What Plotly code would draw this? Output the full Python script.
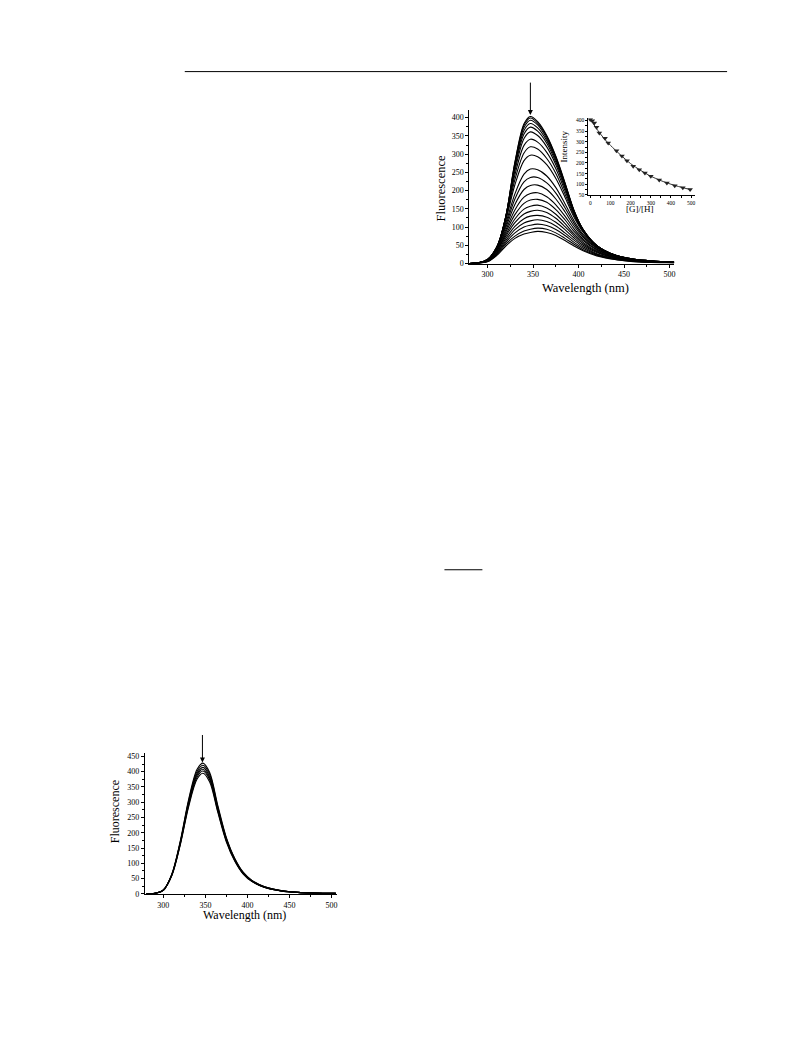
import plotly.graph_objects as go

W, H = 793, 1059

# ---------------- data ----------------
wavelength = [280, 290, 300, 310, 320, 330, 340, 347, 355, 365, 375, 385, 395, 405, 420, 440, 460, 480, 505]

# top panel: titration spectra (intensity vs wavelength), highest to lowest
top_c01 = [0, 2, 10, 40, 129, 278, 383, 403, 389, 351, 294, 222, 145, 93, 48, 22, 11, 6, 4]
top_c02 = [0, 2, 10, 41, 129, 276, 379, 399, 385, 348, 292, 220, 145, 93, 49, 22, 11, 6, 4]
top_c03 = [0, 2, 10, 41, 129, 272, 373, 393, 380, 343, 289, 218, 144, 93, 49, 22, 11, 7, 4]
top_c04 = [0, 2, 10, 42, 128, 268, 365, 384, 372, 337, 284, 216, 143, 92, 49, 23, 11, 7, 4]
top_c05 = [0, 2, 11, 43, 128, 262, 355, 374, 363, 330, 278, 212, 141, 92, 49, 23, 12, 7, 4]
top_c06 = [0, 2, 11, 43, 127, 254, 343, 361, 351, 320, 271, 207, 139, 91, 49, 23, 12, 7, 4]
top_c07 = [0, 2, 11, 44, 125, 243, 324, 341, 333, 305, 260, 200, 136, 90, 49, 23, 12, 7, 4]
top_c08 = [0, 2, 11, 45, 122, 230, 303, 320, 314, 288, 247, 191, 132, 88, 49, 23, 12, 7, 4]
top_c09 = [0, 2, 11, 45, 119, 216, 282, 297, 293, 271, 233, 182, 127, 86, 48, 23, 12, 7, 4]
top_c10 = [0, 2, 11, 44, 111, 191, 245, 259, 257, 240, 208, 164, 117, 80, 46, 22, 11, 6, 4]
top_c11 = [0, 2, 10, 43, 105, 177, 224, 236, 236, 221, 193, 153, 110, 76, 44, 21, 11, 6, 4]
top_c12 = [0, 2, 10, 41, 99, 162, 203, 214, 215, 203, 177, 142, 103, 72, 42, 20, 10, 6, 3]
top_c13 = [0, 2, 9, 39, 92, 147, 182, 192, 194, 183, 161, 130, 95, 67, 39, 19, 10, 6, 3]
top_c14 = [0, 2, 9, 37, 86, 134, 165, 174, 176, 168, 148, 120, 88, 63, 37, 18, 9, 5, 3]
top_c15 = [0, 1, 8, 35, 80, 122, 149, 157, 160, 152, 135, 110, 81, 58, 34, 17, 8, 5, 3]
top_c16 = [0, 1, 8, 33, 75, 112, 136, 143, 146, 140, 124, 101, 76, 54, 32, 16, 8, 5, 3]
top_c17 = [0, 1, 7, 30, 69, 102, 123, 130, 132, 127, 113, 93, 70, 50, 30, 15, 7, 4, 2]
top_c18 = [0, 1, 7, 28, 63, 93, 111, 117, 120, 115, 103, 84, 64, 46, 27, 14, 7, 4, 2]
top_c19 = [0, 1, 6, 26, 58, 84, 100, 105, 108, 104, 93, 77, 58, 42, 25, 13, 6, 4, 2]
top_c20 = [0, 1, 6, 24, 53, 75, 89, 94, 97, 94, 84, 69, 53, 38, 23, 11, 6, 3, 2]
top_c21 = [0, 1, 5, 22, 48, 69, 81, 85, 88, 85, 77, 63, 48, 35, 21, 11, 5, 3, 2]
top_spectra = [top_c01, top_c02, top_c03, top_c04, top_c05, top_c06, top_c07,
               top_c08, top_c09, top_c10, top_c11, top_c12, top_c13, top_c14,
               top_c15, top_c16, top_c17, top_c18, top_c19, top_c20, top_c21]

# inset: intensity vs [G]/[H]
inset_ratio = [0, 10, 20, 31, 45, 73, 89, 130, 157, 182, 213, 243, 271, 300, 342, 380, 419, 459, 495]
inset_intensity = [405, 399, 388, 368, 341, 316, 294, 258, 233, 210, 185, 168, 153, 137, 120, 106, 93, 84, 75]
fit_ratio = [0, 25, 50, 75, 100, 150, 200, 250, 300, 350, 400, 450, 500]
fit_intensity = [407, 370, 337, 308, 283, 238, 197, 165, 138, 117, 100, 86, 74]

# bottom panel spectra
bot_c1 = [0, 2, 13, 64, 171, 308, 407, 428, 398, 287, 184, 116, 71, 45, 24, 11, 5, 3, 2]
bot_c2 = [0, 2, 13, 63, 168, 303, 400, 421, 392, 282, 181, 114, 69, 44, 23, 11, 5, 3, 2]
bot_c3 = [0, 2, 12, 62, 166, 298, 393, 414, 385, 277, 178, 112, 68, 43, 23, 10, 5, 3, 2]
bot_c4 = [0, 2, 12, 61, 163, 294, 388, 408, 379, 273, 175, 110, 67, 43, 22, 10, 5, 3, 2]
bot_c5 = [0, 2, 12, 60, 161, 289, 382, 402, 374, 269, 173, 109, 66, 42, 22, 10, 5, 3, 2]
bot_c6 = [0, 2, 12, 59, 158, 284, 375, 395, 367, 265, 170, 107, 65, 41, 22, 10, 5, 3, 2]
bot_spectra = [bot_c1, bot_c2, bot_c3, bot_c4, bot_c5, bot_c6]

main_xticks = [300, 350, 400, 450, 500]
top_yticks = [0, 50, 100, 150, 200, 250, 300, 350, 400]
bot_yticks = [0, 50, 100, 150, 200, 250, 300, 350, 400, 450]
inset_xticks = [0, 100, 200, 300, 400, 500]
inset_yticks = [50, 100, 150, 200, 250, 300, 350, 400]

# ---------------- helpers ----------------
def px(x):
    return x / W

def py(y):
    return 1 - y / H

FONT = "Liberation Serif, Times New Roman, serif"

fig = go.Figure()

for s in top_spectra:
    fig.add_trace(go.Scatter(x=wavelength, y=s, mode="lines",
                             line=dict(color="black", width=1.1, shape="spline", smoothing=0.9),
                             xaxis="x", yaxis="y", showlegend=False, hoverinfo="skip"))

fig.add_trace(go.Scatter(x=fit_ratio, y=fit_intensity, mode="lines",
                         line=dict(color="#333", width=1, shape="spline", smoothing=0.8),
                         xaxis="x2", yaxis="y2", showlegend=False))
fig.add_trace(go.Scatter(x=inset_ratio, y=inset_intensity, mode="markers",
                         marker=dict(symbol="triangle-down", size=5, color="#222"),
                         xaxis="x2", yaxis="y2", showlegend=False))

for s in bot_spectra:
    fig.add_trace(go.Scatter(x=wavelength, y=s, mode="lines",
                             line=dict(color="black", width=1.1, shape="spline", smoothing=0.9),
                             xaxis="x3", yaxis="y3", showlegend=False, hoverinfo="skip"))

def axis(domain, rng, tickvals, fsize, anchor, dtick_minor, ticklen=3):
    return dict(domain=domain, range=rng, tickvals=tickvals, ticktext=[str(v) for v in tickvals],
                showgrid=False, zeroline=False, showline=True, linecolor="black", linewidth=1,
                ticks="outside", ticklen=ticklen, tickwidth=1, tickcolor="black",
                tickfont=dict(family=FONT, size=fsize, color="#000000"), anchor=anchor,
                minor=dict(ticks="outside", ticklen=2, dtick=dtick_minor, tickcolor="black", tickwidth=1),
                fixedrange=True)

fig.update_layout(
    width=W, height=H, autosize=False,
    margin=dict(l=0, r=0, t=0, b=0),
    paper_bgcolor="white", plot_bgcolor="rgba(0,0,0,0)",
    xaxis=axis([px(470), px(675)], [280, 505], main_xticks, 8, "y", 25),
    yaxis=axis([py(264), py(110)], [0, 420], top_yticks, 8, "x", 25),
    xaxis2=axis([px(589), px(696)], [-10, 520], inset_xticks, 5.5, "y2", 50, ticklen=2),
    yaxis2=axis([py(195.6), py(118)], [47, 410], inset_yticks, 5.5, "x2", 25, ticklen=2),
    xaxis3=axis([px(145), px(337)], [278, 506], main_xticks, 8, "y3", 25),
    yaxis3=axis([py(898), py(756)], [0, 462], bot_yticks, 8, "x3", 25),
)

texts = [
    ("Fluorescence", 441, 188, 12.5, -90),
    ("Wavelength (nm)", 586, 289, 12.5, 0),
    ("Intensity", 565, 146, 9, -90),
    ("[G]/[H]", 641, 209, 9, 0),
    ("Fluorescence", 116, 815, 12, -90),
    ("Wavelength (nm)", 245, 919, 12, 0),
]
for t, x, y, s, a in texts:
    fig.add_annotation(text=t, x=px(x), y=py(y), xref="paper", yref="paper",
                       xanchor="center", yanchor="middle", showarrow=False, textangle=a,
                       font=dict(family=FONT, size=s, color="black"))

# arrows marking the emission maximum
fig.add_annotation(x=347, y=407, xref="x", yref="y", ax=0, ay=-34, showarrow=True,
                   arrowhead=2, arrowsize=1, arrowwidth=1, arrowcolor="black", text="")
fig.add_annotation(x=346.5, y=430, xref="x3", yref="y3", ax=0, ay=-29, showarrow=True,
                   arrowhead=2, arrowsize=1, arrowwidth=1, arrowcolor="black", text="")

# page rules
fig.add_shape(type="line", xref="paper", yref="paper", x0=px(185), x1=px(728), y0=py(71), y1=py(71),
              line=dict(color="black", width=1))
fig.add_shape(type="line", xref="paper", yref="paper", x0=px(445), x1=px(483), y0=py(572), y1=py(572),
              line=dict(color="black", width=1))

fig.write_html("out.html", config={"displayModeBar": False},
               post_script="document.body.style.margin='0';document.body.style.overflow='hidden';")
